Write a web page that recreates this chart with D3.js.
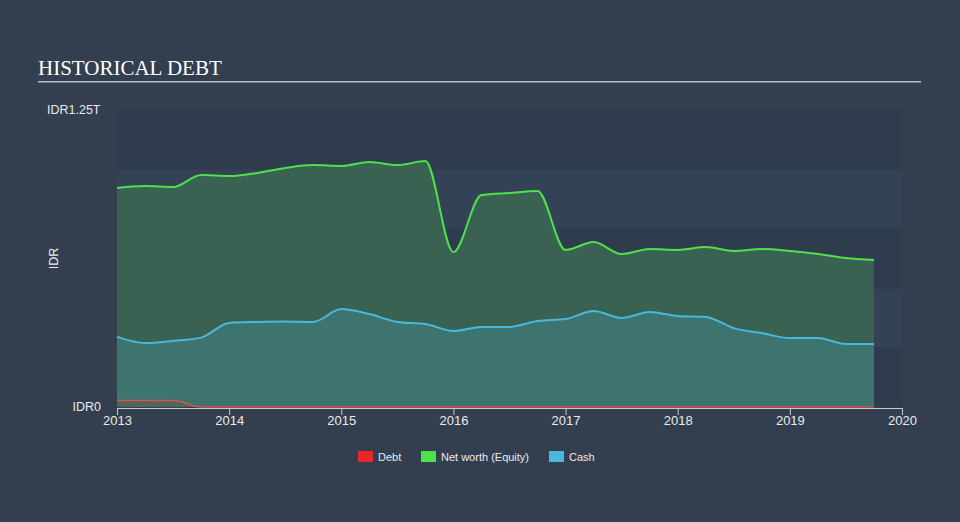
<!DOCTYPE html>
<html>
<head>
<meta charset="utf-8">
<script src="https://cdn.jsdelivr.net/npm/d3@7"></script>
<style>
  html, body { margin: 0; padding: 0; background: #333f4f; }
  svg { display: block; }
</style>
</head>
<body>
<svg id="chart" width="960" height="522"></svg>
<script>
// Quarterly dates (year fractions), values in IDR billions
const dates = [2013, 2013.25, 2013.5, 2013.75, 2014, 2014.25, 2014.5, 2014.75,
  2015, 2015.25, 2015.5, 2015.75, 2016, 2016.25, 2016.5, 2016.75,
  2017, 2017.25, 2017.5, 2017.75, 2018, 2018.25, 2018.5, 2018.75,
  2019, 2019.25, 2019.5, 2019.75];
const netWorth = [922, 930, 926, 976, 972, 985, 1006, 1018,
  1014, 1031, 1018, 1035, 652, 892, 901, 909,
  661, 694, 644, 665, 661, 673, 657, 665,
  657, 644, 627, 619];
const cash = [295, 269, 278, 292, 354, 358, 360, 358,
  412, 391, 358, 349, 320, 337, 337, 362,
  370, 404, 375, 400, 383, 379, 332, 311,
  290, 290, 265, 265];
const debt = [27, 27, 27, 0, 0, 0, 0, 0,
  0, 0, 0, 0, 0, 0, 0, 0,
  0, 0, 0, 0, 0, 0, 0, 0,
  0, 0, 0, 0];
const xTicks = [2013, 2014, 2015, 2016, 2017, 2018, 2019, 2020];
const yTickLabels = ["IDR0", "IDR1.25T"];
const legendItems = ["Debt", "Net worth (Equity)", "Cash"];

const svg = d3.select("#chart");
const W = 960, H = 522;
const m = { left: 117, right: 902, top: 110, bottom: 407 };

const x = d3.scaleLinear().domain([2013, 2020]).range([m.left, m.right]);
const y = d3.scaleLinear().domain([0, 1250]).range([m.bottom, m.top]);

const defs = svg.append("defs");
const pat = defs.append("pattern").attr("id", "hatch").attr("patternUnits", "userSpaceOnUse")
  .attr("width", 4).attr("height", 4).attr("patternTransform", "rotate(45)");
pat.append("rect").attr("width", 4).attr("height", 4).attr("fill", "#3a6a5e");
pat.append("line").attr("x1", 0).attr("y1", 0).attr("x2", 0).attr("y2", 4)
  .attr("stroke", "#c0504a").attr("stroke-width", 1.5).attr("stroke-opacity", 0.7);

// page background
svg.append("rect").attr("width", W).attr("height", H).attr("fill", "#333f4f");

// title
svg.append("text").attr("x", 38).attr("y", 75)
  .attr("font-family", "Liberation Serif, Times New Roman, serif")
  .attr("font-size", 21).attr("fill", "#ffffff").text("HISTORICAL DEBT");
svg.append("rect").attr("x", 38).attr("y", 81).attr("width", 883).attr("height", 1.5)
  .attr("fill", "#b8bec6");

// bands
const bandVals = d3.range(0, 1250, 250);
svg.append("g").selectAll("rect").data(bandVals).join("rect")
  .attr("x", m.left).attr("width", m.right - m.left)
  .attr("y", d => y(d + 250)).attr("height", d => y(d) - y(d + 250))
  .attr("fill", (d, i) => i % 2 === 0 ? "#2f3c4d" : "#334254");

const idx = d3.range(dates.length);
const curve = d3.curveMonotoneX;

// net worth area
svg.append("path").datum(idx)
  .attr("d", d3.area().curve(curve).x(i => x(dates[i])).y0(y(0)).y1(i => y(netWorth[i])))
  .attr("fill", "#3a6452").attr("fill-opacity", 0.95);
// cash area
svg.append("path").datum(idx)
  .attr("d", d3.area().curve(curve).x(i => x(dates[i])).y0(y(0)).y1(i => y(cash[i])))
  .attr("fill", "#3d746f");
// debt area
svg.append("path").datum(idx)
  .attr("d", d3.area().curve(curve).x(i => x(dates[i])).y0(y(0)).y1(i => y(debt[i])))
  .attr("fill", "url(#hatch)");

// lines
const line = vals => d3.line().curve(curve).x(i => x(dates[i])).y(i => y(vals[i]));
svg.append("path").datum(idx).attr("d", line(netWorth))
  .attr("fill", "none").attr("stroke", "#4fe04a").attr("stroke-width", 2);
svg.append("path").datum(idx).attr("d", line(cash))
  .attr("fill", "none").attr("stroke", "#49b8dc").attr("stroke-width", 2);
svg.append("path").datum(idx).attr("d", line(debt))
  .attr("fill", "none").attr("stroke", "#d9534a").attr("stroke-width", 1.5);

// x axis
const xAxis = svg.append("g").attr("transform", `translate(0,${m.bottom + 1})`)
  .call(d3.axisBottom(x).tickValues(xTicks).tickFormat(d3.format("d")).tickSize(7).tickSizeOuter(0));
xAxis.select(".domain").attr("stroke", "#c5cbd3").attr("stroke-width", 1);
xAxis.selectAll(".tick line").attr("stroke", "#c5cbd3");
xAxis.selectAll(".tick text").attr("fill", "#e8ebee").attr("font-size", 13)
  .attr("font-family", "Liberation Sans, Arial, sans-serif").attr("dy", "0.62em").attr("y", 9);

// y labels
const yl = svg.append("g").attr("font-family", "Liberation Sans, Arial, sans-serif")
  .attr("font-size", 12.5).attr("fill", "#e8ebee");
yl.append("text").attr("x", 101).attr("y", y(0) + 4).attr("text-anchor", "end").text(yTickLabels[0]);
yl.append("text").attr("x", 47).attr("y", y(1250) + 4).text(yTickLabels[1]);
yl.append("text").attr("transform", `translate(58,${(m.top + m.bottom) / 2}) rotate(-90)`)
  .attr("text-anchor", "middle").text("IDR");

// legend
const legColors = ["#e8272a", "#4fe04a", "#49b8dc"];
const legX = [358, 421, 549];
const lg = svg.append("g").attr("font-family", "Liberation Sans, Arial, sans-serif")
  .attr("font-size", 11).attr("fill", "#e8ebee");
legendItems.forEach((t, i) => {
  lg.append("rect").attr("x", legX[i]).attr("y", 451).attr("width", 15).attr("height", 11).attr("fill", legColors[i]);
  lg.append("text").attr("x", legX[i] + 20).attr("y", 460.5).text(t);
});
</script>
</body>
</html>
